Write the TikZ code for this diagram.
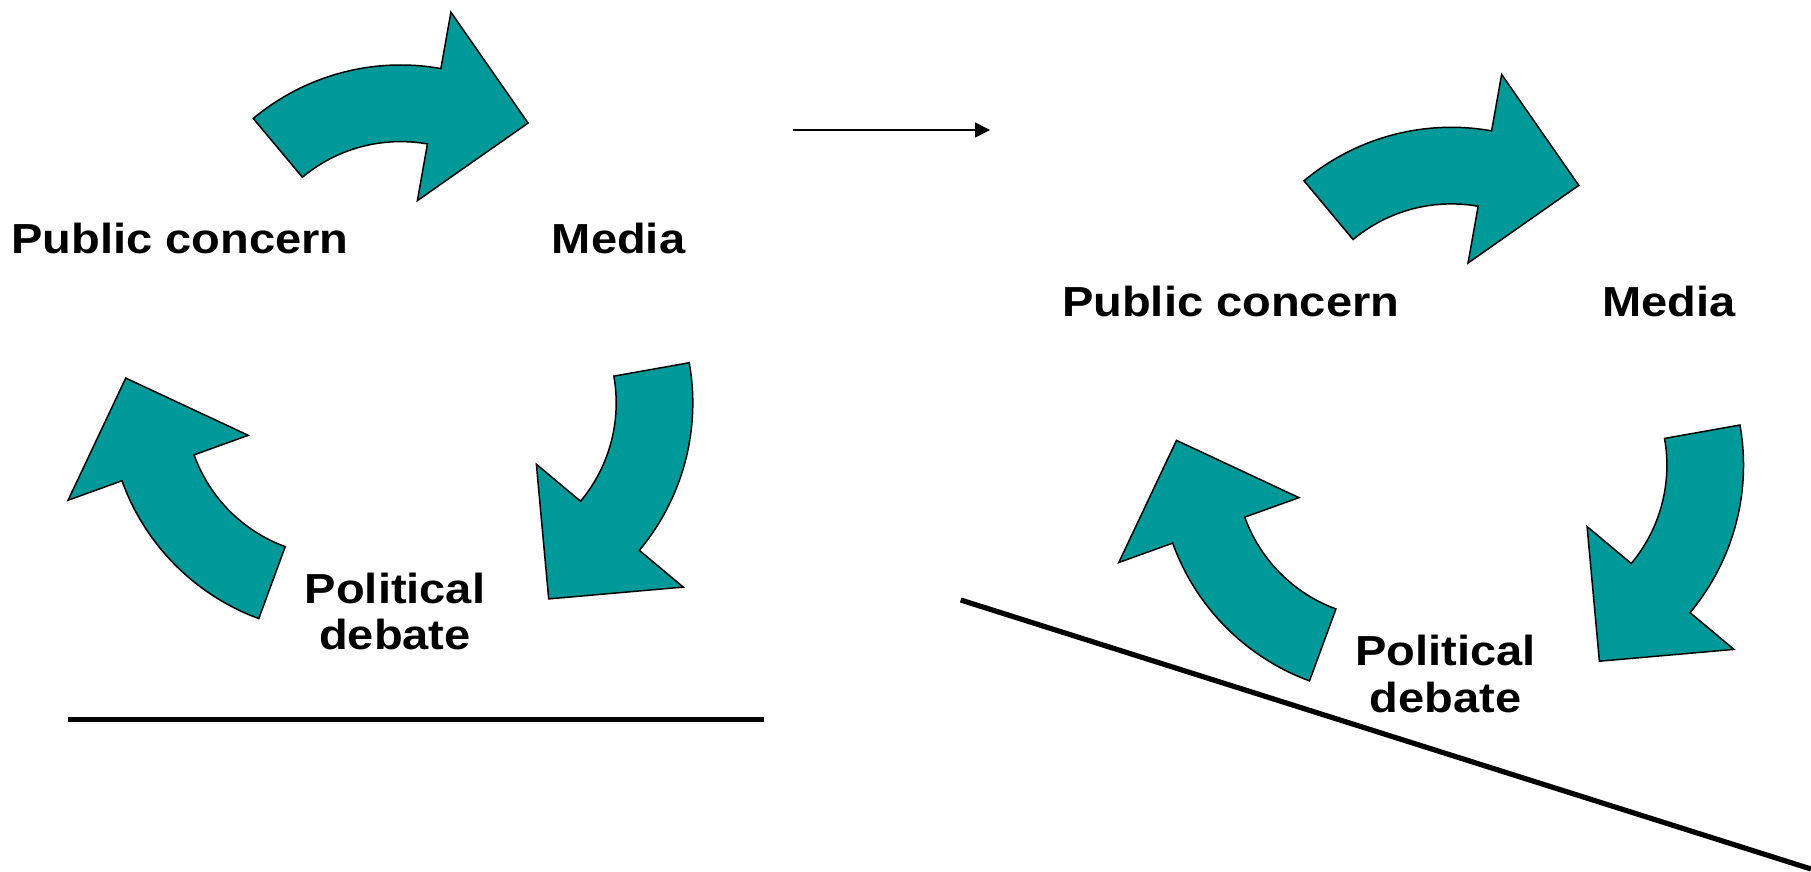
\documentclass[tikz,border=0pt]{standalone}
\usepackage{fontspec}
\newfontfamily\labfont{Liberation Sans}[FakeStretch=1.12]
\usetikzlibrary{arrows.meta}
\definecolor{teal}{RGB}{0,153,153}
\newcommand{\cycarrow}[3]{%
  \begin{scope}[shift={(#1,#2)}]
    \draw[cycarrowstyle] (#3:229.7pt) arc[start angle=#3, end angle={#3-50}, radius=229.7pt]
      -- ({#3-50}:287pt) -- ({#3-76.5}:213.8pt) -- ({#3-50}:95.5pt)
      -- ({#3-50}:153.1pt) arc[start angle={#3-50}, end angle=#3, radius=153.1pt] -- cycle;
  \end{scope}}
\begin{document}
\begin{tikzpicture}[x=1pt,y=1pt,
  cycarrowstyle/.style={fill=teal,draw=black,line width=1.5pt,line join=miter},
  lab/.style={inner sep=0pt,anchor=base,font=\labfont\bfseries\fontsize{42}{46}\selectfont},
  groundline/.style={line width=5.2pt,line cap=butt}]
\useasboundingbox (0,0) rectangle (1811,871);
% left cycle
\begin{scope}
  \cycarrow{400.6}{576.3}{129.9}
  \cycarrow{463.1}{468.0}{10.1}
  \cycarrow{338.1}{468.0}{249.8}
\end{scope}
\node[lab] (pc1) at (180,617) {Public concern};
\node[lab] (me1) at (618.5,617) {Media};
\node[lab] (po1) at (395,267.5) {Political};
\node[lab] (de1) at (395,221.3) {debate};
\coordinate (g1a) at (68,151.5);
\coordinate (g1b) at (763.5,151.5);
\draw[groundline] (g1a) -- (g1b);
% transition arrow
\coordinate (ta) at (793.3,741);
\coordinate (tb) at (990,741);
\draw[line width=1.5pt,-{Triangle[length=15pt,width=15pt]}] (ta) -- (tb);
% right cycle
\begin{scope}[shift={(1050.7,-62.3)}]
  \cycarrow{400.6}{576.3}{129.9}
  \cycarrow{463.1}{468.0}{10.1}
  \cycarrow{338.1}{468.0}{249.8}
  \node[lab] (pc2) at (180,617) {Public concern};
  \node[lab] (me2) at (618.5,617) {Media};
  \node[lab] (po2) at (395,267.5) {Political};
  \node[lab] (de2) at (395,221.3) {debate};
\end{scope}
\coordinate (g2a) at (960.7,271);
\coordinate (g2b) at (1811,2);
\draw[groundline] (g2a) -- (g2b);
\end{tikzpicture}
\end{document}
